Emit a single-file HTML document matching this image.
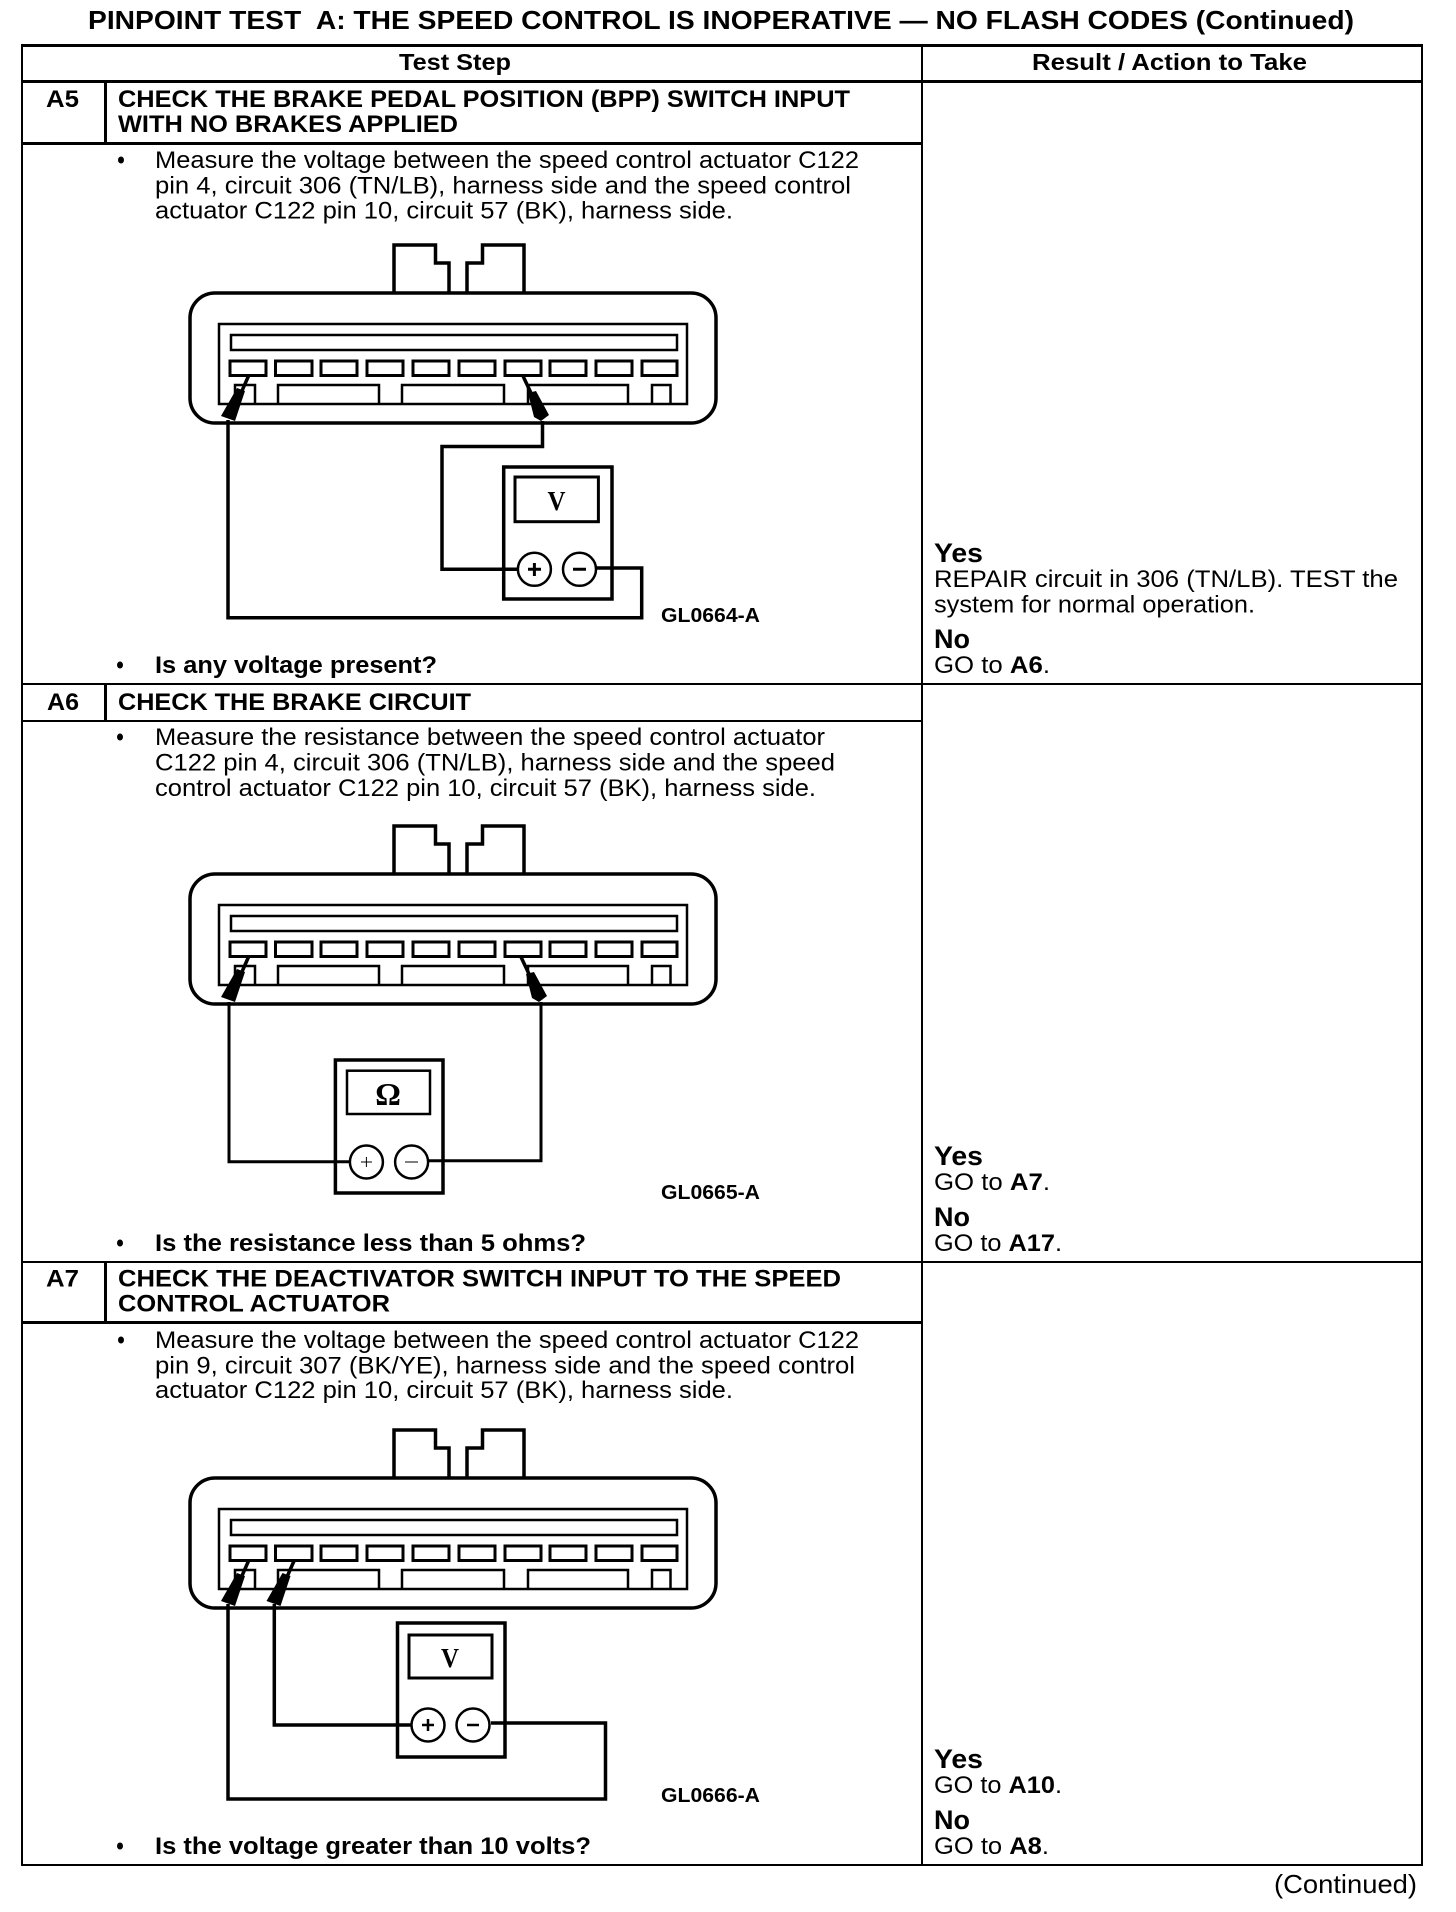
<!DOCTYPE html>
<html><head><meta charset="utf-8"><style>
html,body{margin:0;padding:0;background:#fff}
svg{display:block}
text{font-family:"Liberation Sans",sans-serif;fill:#000}
.b{font-weight:bold}
.t{font-size:24px}
.h{font-size:24px;font-weight:bold}
.y{font-size:27px;font-weight:bold}
.g{font-size:20px;font-weight:bold}
.m{font-family:"Liberation Serif",serif;font-weight:bold}
</style></head><body>
<svg xmlns="http://www.w3.org/2000/svg" width="1456" height="1912" viewBox="0 0 1456 1912">
<defs>
<g id="conn" fill="none" stroke="#000">
<rect x="190" y="293" width="526" height="130" rx="25" ry="25" fill="#fff" stroke-width="3.5"/>
<path d="M394 293V245H435.5V263H449V293M467 293V263H482.5V245H524V293" stroke-width="3.5"/>
<rect x="219" y="324" width="468" height="80" stroke-width="2.5"/>
<rect x="231" y="335" width="446" height="15" stroke-width="2.5"/>
<g stroke-width="3">
<rect x="230" y="361" width="36" height="14.5"/><rect x="275.500" y="361" width="36.500" height="14.500"/><rect x="321" y="361" width="36" height="14.500"/><rect x="367" y="361" width="36" height="14.500"/><rect x="413" y="361" width="36" height="14.500"/><rect x="459" y="361" width="36" height="14.500"/><rect x="505" y="361" width="36" height="14.500"/><rect x="550" y="361" width="36" height="14.500"/><rect x="596" y="361" width="36" height="14.500"/><rect x="642" y="361" width="35" height="14.500"/>
<path d="M235 404V385H255V404M278 404V385H379V404M402 404V385H504V404M528 404V385H628V404M652 404V385H670.500V404" stroke-width="2.500"/>
</g>
</g>
<g id="pl">
<path d="M248.500 376L241 393" stroke="#000" stroke-width="3.500" fill="none"/>
<path d="M237 388L245 391L235 421L221 416Z" fill="#000"/>
</g>
<g id="pr">
<path d="M523 376L531 393" stroke="#000" stroke-width="3.500" fill="none"/>
<path d="M528 393L536 391L549 415L541 421L534 417Z" fill="#000"/>
</g>
</defs>
<rect width="1456" height="1912" fill="#fff"/>

<text class="b" x="88" y="29" font-size="26" textLength="1266" lengthAdjust="spacingAndGlyphs">PINPOINT TEST&#160; A: THE SPEED CONTROL IS INOPERATIVE — NO FLASH CODES (Continued)</text>

<!-- table -->
<g fill="#000" shape-rendering="crispEdges">
<rect x="21" y="44" width="1402" height="3"/>
<rect x="21" y="44" width="2" height="1822"/>
<rect x="1421" y="44" width="2" height="1822"/>
<rect x="921" y="44" width="2" height="1822"/>
<rect x="21" y="80" width="1402" height="3"/>
<rect x="21" y="142" width="901" height="3"/>
<rect x="21" y="683" width="1402" height="2"/>
<rect x="21" y="720" width="901" height="2"/>
<rect x="21" y="1261" width="1402" height="2"/>
<rect x="21" y="1321" width="901" height="3"/>
<rect x="21" y="1864" width="1402" height="2"/>
<rect x="104" y="81" width="3" height="62"/>
<rect x="104" y="684" width="3" height="37"/>
<rect x="104" y="1262" width="3" height="60"/>
</g>

<text class="b" x="399" y="70" font-size="23" textLength="112" lengthAdjust="spacingAndGlyphs">Test Step</text>
<text class="b" x="1032" y="70" font-size="23" textLength="275" lengthAdjust="spacingAndGlyphs">Result / Action to Take</text>

<!-- A5 -->
<text class="h" x="46" y="107" textLength="33" lengthAdjust="spacingAndGlyphs">A5</text>
<text class="h" x="118" y="107" textLength="732" lengthAdjust="spacingAndGlyphs">CHECK THE BRAKE PEDAL POSITION (BPP) SWITCH INPUT</text>
<text class="h" x="118" y="132" textLength="340" lengthAdjust="spacingAndGlyphs">WITH NO BRAKES APPLIED</text>
<ellipse cx="121" cy="160" rx="3" ry="3.500" fill="#000"/>
<text class="t" x="155" y="168" textLength="704" lengthAdjust="spacingAndGlyphs">Measure the voltage between the speed control actuator C122</text>
<text class="t" x="155" y="193.500" textLength="696" lengthAdjust="spacingAndGlyphs">pin 4, circuit 306 (TN/LB), harness side and the speed control</text>
<text class="t" x="155" y="218.500" textLength="578" lengthAdjust="spacingAndGlyphs">actuator C122 pin 10, circuit 57 (BK), harness side.</text>

<use href="#conn"/>
<use href="#pl"/>
<use href="#pr" x="0"/>
<path d="M542.500 421V446.500H442V569.300H518M596 568H641.700V617.700H228V420" fill="none" stroke="#000" stroke-width="3.500"/>
<rect x="503.700" y="467" width="108.300" height="132" fill="none" stroke="#000" stroke-width="3.500"/>
<rect x="515" y="477" width="83.400" height="44.700" fill="none" stroke="#000" stroke-width="3"/>
<text class="m" x="547.500" y="510" font-size="27" textLength="18" lengthAdjust="spacingAndGlyphs">V</text>
<circle cx="534.400" cy="569.300" r="16.500" fill="#fff" stroke="#000" stroke-width="2.500"/>
<circle cx="579.500" cy="569.300" r="16.500" fill="#fff" stroke="#000" stroke-width="2.500"/>
<path d="M528 569.300H541M534.400 563V576M573 569.300H586" stroke="#000" stroke-width="3" fill="none"/>
<text class="g" x="661" y="622" textLength="99" lengthAdjust="spacingAndGlyphs">GL0664-A</text>

<ellipse cx="120" cy="665" rx="3" ry="3.500" fill="#000"/>
<text class="h" x="155" y="673" textLength="282" lengthAdjust="spacingAndGlyphs">Is any voltage present?</text>

<text class="y" x="934" y="562" textLength="49" lengthAdjust="spacingAndGlyphs">Yes</text>
<text class="t" x="934" y="587" textLength="464" lengthAdjust="spacingAndGlyphs">REPAIR circuit in 306 (TN/LB). TEST the</text>
<text class="t" x="934" y="612.500" textLength="321" lengthAdjust="spacingAndGlyphs">system for normal operation.</text>
<text class="y" x="934" y="648" textLength="36" lengthAdjust="spacingAndGlyphs">No</text>
<text class="t" x="934" y="673" textLength="116" lengthAdjust="spacingAndGlyphs">GO to <tspan class="b">A6</tspan>.</text>

<!-- A6 -->
<text class="h" x="47" y="710" textLength="32" lengthAdjust="spacingAndGlyphs">A6</text>
<text class="h" x="118" y="710" textLength="353" lengthAdjust="spacingAndGlyphs">CHECK THE BRAKE CIRCUIT</text>
<ellipse cx="120" cy="737" rx="3" ry="3.500" fill="#000"/>
<text class="t" x="155" y="745" textLength="670" lengthAdjust="spacingAndGlyphs">Measure the resistance between the speed control actuator</text>
<text class="t" x="155" y="770.500" textLength="680" lengthAdjust="spacingAndGlyphs">C122 pin 4, circuit 306 (TN/LB), harness side and the speed</text>
<text class="t" x="155" y="796" textLength="661" lengthAdjust="spacingAndGlyphs">control actuator C122 pin 10, circuit 57 (BK), harness side.</text>

<use href="#conn" y="581"/>
<use href="#pl" y="581"/>
<use href="#pr" y="581" x="-2"/>
<path d="M229 1002V1161.700H350M541 1002V1160.700H429" fill="none" stroke="#000" stroke-width="3"/>
<rect x="335.400" y="1060" width="107.600" height="133" fill="none" stroke="#000" stroke-width="3.500"/>
<rect x="347" y="1070.700" width="83" height="43.300" fill="none" stroke="#000" stroke-width="2.500"/>
<text class="m" x="388" y="1105" font-size="32" text-anchor="middle">Ω</text>
<circle cx="366.400" cy="1162" r="16.500" fill="#fff" stroke="#000" stroke-width="2.500"/>
<circle cx="411.600" cy="1162" r="16.500" fill="#fff" stroke="#000" stroke-width="2.500"/>
<path d="M361 1162H372M366.400 1157V1167M405 1162H418" stroke="#000" stroke-width="1" fill="none"/>
<text class="g" x="661" y="1199" textLength="99" lengthAdjust="spacingAndGlyphs">GL0665-A</text>

<ellipse cx="120" cy="1243" rx="3" ry="3.500" fill="#000"/>
<text class="h" x="155" y="1251" textLength="431" lengthAdjust="spacingAndGlyphs">Is the resistance less than 5 ohms?</text>

<text class="y" x="934" y="1165" textLength="49" lengthAdjust="spacingAndGlyphs">Yes</text>
<text class="t" x="934" y="1190" textLength="116" lengthAdjust="spacingAndGlyphs">GO to <tspan class="b">A7</tspan>.</text>
<text class="y" x="934" y="1226" textLength="36" lengthAdjust="spacingAndGlyphs">No</text>
<text class="t" x="934" y="1251" textLength="128" lengthAdjust="spacingAndGlyphs">GO to <tspan class="b">A17</tspan>.</text>

<!-- A7 -->
<text class="h" x="46" y="1286.500" textLength="33" lengthAdjust="spacingAndGlyphs">A7</text>
<text class="h" x="118" y="1286.500" textLength="723" lengthAdjust="spacingAndGlyphs">CHECK THE DEACTIVATOR SWITCH INPUT TO THE SPEED</text>
<text class="h" x="118" y="1311.500" textLength="272" lengthAdjust="spacingAndGlyphs">CONTROL ACTUATOR</text>
<ellipse cx="121" cy="1340" rx="3" ry="3.500" fill="#000"/>
<text class="t" x="155" y="1348" textLength="704" lengthAdjust="spacingAndGlyphs">Measure the voltage between the speed control actuator C122</text>
<text class="t" x="155" y="1373.500" textLength="700" lengthAdjust="spacingAndGlyphs">pin 9, circuit 307 (BK/YE), harness side and the speed control</text>
<text class="t" x="155" y="1398" textLength="578" lengthAdjust="spacingAndGlyphs">actuator C122 pin 10, circuit 57 (BK), harness side.</text>

<use href="#conn" y="1185"/>
<use href="#pl" y="1185"/>
<use href="#pl" y="1185" x="45.500"/>
<path d="M228 1604V1799H605.500V1723H491M274.300 1604V1725H411" fill="none" stroke="#000" stroke-width="3.500"/>
<rect x="397.500" y="1623" width="107.500" height="134" fill="none" stroke="#000" stroke-width="3.500"/>
<rect x="409" y="1635" width="83" height="43" fill="none" stroke="#000" stroke-width="3"/>
<text class="m" x="441" y="1667" font-size="27" textLength="18" lengthAdjust="spacingAndGlyphs">V</text>
<circle cx="428" cy="1725" r="16.500" fill="#fff" stroke="#000" stroke-width="2.500"/>
<circle cx="473" cy="1725" r="16.500" fill="#fff" stroke="#000" stroke-width="2.500"/>
<path d="M422 1725H434M428 1719V1731M467 1725H479" stroke="#000" stroke-width="2.500" fill="none"/>
<text class="g" x="661" y="1802" textLength="99" lengthAdjust="spacingAndGlyphs">GL0666-A</text>

<ellipse cx="120" cy="1846" rx="3" ry="3.500" fill="#000"/>
<text class="h" x="155" y="1854" textLength="436" lengthAdjust="spacingAndGlyphs">Is the voltage greater than 10 volts?</text>

<text class="y" x="934" y="1768" textLength="49" lengthAdjust="spacingAndGlyphs">Yes</text>
<text class="t" x="934" y="1793" textLength="128" lengthAdjust="spacingAndGlyphs">GO to <tspan class="b">A10</tspan>.</text>
<text class="y" x="934" y="1829" textLength="36" lengthAdjust="spacingAndGlyphs">No</text>
<text class="t" x="934" y="1854" textLength="115" lengthAdjust="spacingAndGlyphs">GO to <tspan class="b">A8</tspan>.</text>

<text x="1274" y="1893" font-size="26" textLength="143" lengthAdjust="spacingAndGlyphs">(Continued)</text>
</svg>
</body></html>
